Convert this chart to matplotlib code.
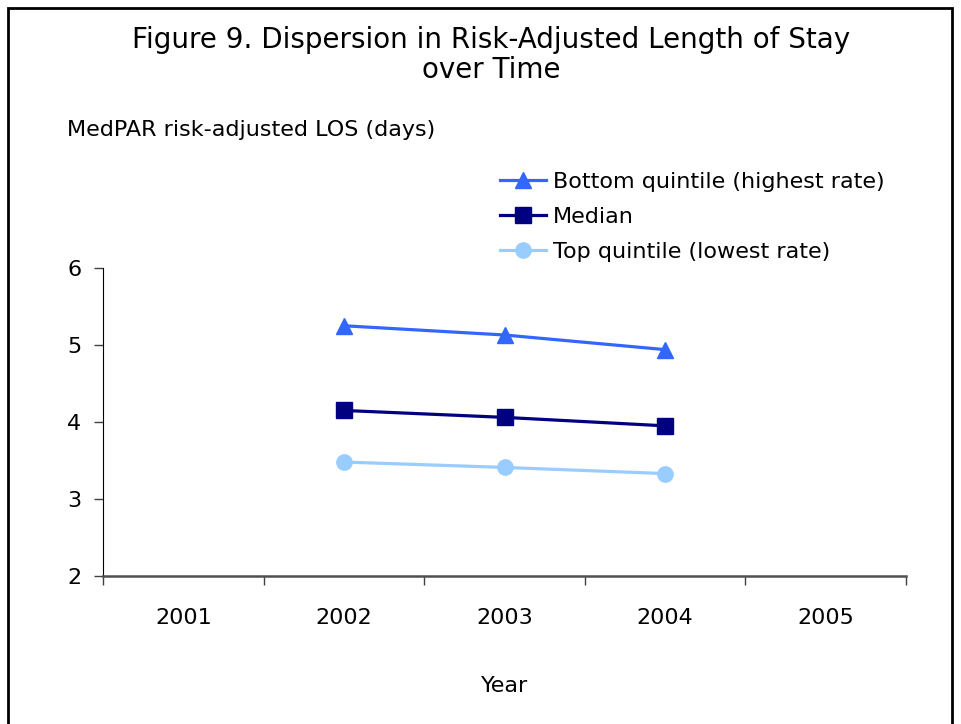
import matplotlib.pyplot as plt
from matplotlib.patches import Rectangle

years = ["2001", "2002", "2003", "2004", "2005"]
data_years = ["2002", "2003", "2004"]
bottom_quintile = [5.25, 5.13, 4.94]
median = [4.15, 4.06, 3.95]
top_quintile = [3.48, 3.41, 3.33]

plt.rcParams["font.family"] = ["DejaVu Sans"]

fig = plt.figure(figsize=(9.61, 7.24), dpi=100)
ax = fig.add_axes([103 / 961, 1 - 576 / 724, 803 / 961, 308 / 724])

xpos = [years.index(y) for y in data_years]
ax.plot(xpos, bottom_quintile, color="#3366FF", lw=2.3, marker="^", ms=12,
        label="Bottom quintile (highest rate)")
ax.plot(xpos, median, color="#000080", lw=2.3, marker="s", ms=11,
        label="Median")
ax.plot(xpos, top_quintile, color="#99CCFF", lw=2.3, marker="o", ms=11,
        label="Top quintile (lowest rate)")

# categories sit between the tick marks, as in a spreadsheet category axis
ax.set_xlim(-0.5, len(years) - 0.5)
ax.set_ylim(2, 6)
ax.set_yticks([2, 3, 4, 5, 6])
ax.set_xticks([i - 0.5 for i in range(len(years) + 1)])
ax.set_xticklabels([])
ax.set_xticks(range(len(years)), minor=True)
ax.set_xticklabels(years, minor=True)
ax.tick_params(axis="x", which="major", length=6.5, width=1, direction="out", color="#404040")
ax.tick_params(axis="x", which="minor", length=0, pad=23, labelsize=16)
ax.tick_params(axis="y", length=6.5, width=1, direction="out", color="#404040", labelsize=16, pad=9)

for s in ["top", "right"]:
    ax.spines[s].set_visible(False)
ax.spines["left"].set_color("#000000")
ax.spines["bottom"].set_color("#505050")
ax.spines["bottom"].set_linewidth(1.8)

ax.set_xlabel("Year", fontsize=16, labelpad=34.5)

fig.text(491 / 961, 1 - 40 / 724, "Figure 9. Dispersion in Risk-Adjusted Length of Stay",
         ha="center", va="center", fontsize=20)
fig.text(491 / 961, 1 - 70 / 724, "over Time", ha="center", va="center", fontsize=20)
fig.text(67 / 961, 1 - 130 / 724, "MedPAR risk-adjusted LOS (days)",
         ha="left", va="center", fontsize=16)

fig.legend(loc="upper left", bbox_to_anchor=(500 / 961, 1 - 172 / 724),
           frameon=False, fontsize=16, handlelength=2.05, handletextpad=0.35,
           labelspacing=0.67, borderpad=0, borderaxespad=0)

fig.patches.append(Rectangle((8 / 961, -0.05), 944 / 961, 1.05 - 8 / 724,
                             transform=fig.transFigure, fill=False,
                             edgecolor="black", lw=2))

fig.savefig("out.png", dpi=100)
